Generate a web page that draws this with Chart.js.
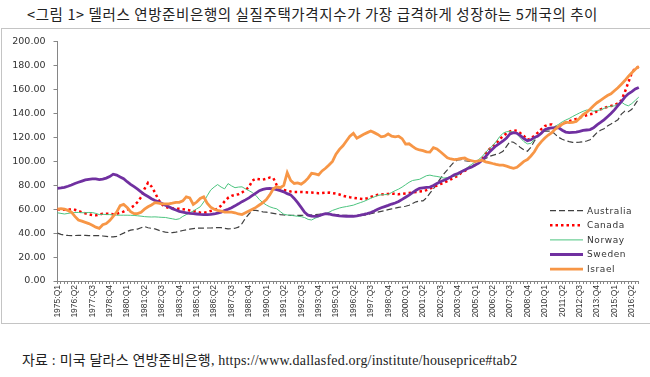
<!DOCTYPE html>
<html>
<head>
<meta charset="utf-8">
<script src="https://cdn.jsdelivr.net/npm/chart.js@4"></script>
<style>
  html, body { margin: 0; padding: 0; background: #fff; }
  body { width: 650px; height: 377px; position: relative; overflow: hidden; }
  #title {
    position: absolute; left: 27px; top: 3px; letter-spacing: 0.6px;
    font: 14.5px "Noto Sans CJK KR", sans-serif; color: #222; white-space: nowrap;
  }
  #frame {
    position: absolute; left: 1px; top: 28px; width: 670px; height: 294px;
    border: 1px solid #c4c4c4;
  }
  #wrap { position: absolute; left: 0; top: 28px; width: 650px; height: 296px; }
  #source {
    position: absolute; left: 22px; top: 349px; letter-spacing: 0.2px;
    font: 14px "Liberation Serif", "Noto Sans CJK KR", serif; color: #222; white-space: nowrap;
  }
</style>
</head>
<body>
<div id="title">&lt;그림 1&gt; 델러스 연방준비은행의 실질주택가격지수가 가장 급격하게 성장하는 5개국의 추이</div>
<div id="frame"></div>
<div id="wrap"><canvas id="chart"></canvas></div>
<div id="source">자료 : 미국 달라스 연방준비은행, https://www.dallasfed.org/institute/houseprice#tab2</div>
<script>
// quarters 1975:Q1 .. 2016:Q4
const years = [];
for (let y = 1975; y <= 2016; y++) years.push(y);
const quarters = [];
years.forEach(y => { for (let q = 1; q <= 4; q++) quarters.push(y + ":Q" + q); });

const seriesNames = ["Australia", "Canada", "Norway", "Sweden", "Israel"];

const australia = [
  40, 39, 38.3, 38.1,   38, 38, 38.1, 38.2,   38.2, 38, 38, 37.9,   37.9, 37.6, 37.3, 37,
  36.9, 37.3, 38.7, 40,   41.5, 42.5, 43, 43.4,   44.5, 45.5, 44.5, 44,   43.5, 42.5, 41.5, 40.8,
  40.5, 40.5, 40.8, 41.5,   42.2, 42.8, 43.4, 43.8,   44.1, 44.2, 44.2, 44.3,   44.3, 44.5, 44.6, 44.6,
  44, 43.5, 43.7, 44.1,   45, 48, 52.5, 56,   59, 59, 58.5, 57.8,   57.5, 57, 56.5, 56,
  55.5, 55.2, 55, 54.9,   54.9, 54.9, 54.9, 55,   55, 55.2, 55.5, 55.8,   56, 56.3, 56, 55.7,
  55.5, 55.2, 54.9, 54.8,   54.5, 54.1, 54.3, 54.7,   55, 55.5, 56.3, 57,   57.6, 58.2, 58.8, 59.6,
  60.3, 60.9, 61.5, 62,   62.5, 63.3, 64.8, 66.2,   66.8, 67, 69.5, 73.5,   77, 81.5, 85.5, 89.5,
  92.8, 96.5, 99.6, 101.3,   101.5, 100.5, 100.1, 100,   100.1, 100.2, 100.8, 102.3,   104, 105, 105.8, 106.8,
  108.5, 112.5, 116.5, 116,   114, 111.5, 109.5, 108.5,   111.7, 117, 121.5, 124,   125.3, 125.3, 125.3, 122.5,
  120, 118.5, 117.3, 116.5,   115.8, 115.8, 116, 116.4,   117, 118, 121, 124,   126, 127.2, 129.5, 131.2,
  133, 134.7, 139.5, 142,   141.5, 143.5, 148, 152.3
];

const canada = [
  60, 59.8, 59.5, 59.5,   60, 59.5, 58.5, 57.5,   56.5, 55.8, 55.2, 54.9,   55.5, 56.3, 56.3, 56,
  55.8, 56.2, 57, 58,   59.5, 61, 63, 66,   70, 77, 82, 79,   74, 68, 64, 62,
  61, 60.8, 60.5, 60.3,   60, 59.5, 59, 58.5,   57.6, 57.2, 57, 57.6,   58.5, 59.5, 60.5, 63,
  66.5, 69.5, 71.2, 72,   72.5, 74, 76, 78.5,   84, 85.5, 85, 84.7,   85.5, 86.5, 86, 80,
  77, 76, 75.5, 74.8,   74.4, 74.4, 74.4, 74.2,   74, 73.9, 73.6, 73.4,   73.5, 73.8, 73.9, 73.5,
  73, 72.3, 71.2, 70.5,   70, 69.6, 69.1, 68.8,   68.5, 69.2, 70.2, 71.2,   72, 72.4, 72.6, 72.8,
  73, 72.8, 72.5, 72.8,   73.2, 73.5, 74, 74.3,   74.8, 75, 76, 77.3,   78.5, 79.8, 81, 82.2,
  83.5, 85, 86.5, 88,   90.5, 92, 94, 95.8,   97, 99.5, 102, 106.5,   110, 112.3, 115, 118.5,
  121, 123.5, 125, 126,   125.5, 123.5, 121.2, 118,   119, 121.5, 124, 127,   129.5, 130.7, 130.7, 128.5,
  129, 131, 132.3, 133.5,   134.5, 135.5, 136.6, 137.5,   138.5, 139.3, 140, 142,   143.5, 144.5, 145.6, 146.3,
  147, 148.5, 151, 158,   166, 174, 178, 178.8
];

const norway = [
  57, 56.5, 56, 56.5,   57, 57.3, 57.3, 57.1,   57, 57.3, 57.2, 56.5,   55.5, 55.8, 55.5, 55.5,
  55.3, 55, 55, 55,   55, 54.9, 54.8, 54.5,   54.2, 53.8, 53.6, 53.5,   53.6, 53.4, 53.2, 53.1,
  52.5, 52, 51.4, 52,   54, 55.5, 57, 58.5,   60.3, 62, 66, 71.2,   76, 78.5, 80.6, 78.5,
  77, 81.4, 79.5, 78,   78.5, 78.7, 77, 75.5,   73.9, 71.5, 68, 65.5,   63.5, 62, 61, 60.3,
  58, 55.8, 55.2, 54.9,   54.5, 54.1, 53.8, 53,   51.5, 51, 52.5, 53.6,   55, 56.3, 57.5, 59,
  60, 61, 61.7, 62.2,   62.8, 63.4, 64.5, 65.5,   66.5, 67.8, 69.2, 70.3,   71.5, 72, 72.2, 72.3,
  74, 75.5, 76.8, 78.5,   80.5, 82.5, 84, 84.5,   85, 86.5, 88, 88.5,   87.8, 87.4, 86.8, 86,
  86.5, 87.2, 87.4, 88.5,   90.5, 93, 95.5, 97.5,   99.5, 101.5, 104, 107.5,   110.5, 113, 116.5, 120.5,
  123.5, 124.8, 124.8, 124.5,   123, 119.5, 116.5, 114.6,   115, 118.5, 121.5, 124.5,   125.8, 126.6, 127.8, 129.3,
  131, 133, 134.5, 135.8,   137.5, 139, 140.5, 141.8,   142.9, 142.5, 142, 142.5,   143, 144.2, 145.5, 146,
  146.4, 148, 149.6, 147.5,   146.4, 148.3, 151, 153.7
];

const sweden = [
  77.5, 77.8, 78.3, 79.2,   80.2, 81.5, 82.5, 83.5,   84.5, 85, 85.3, 85.3,   84.8, 85.2, 86, 87.3,
  89.3, 88.5, 87, 85.5,   83, 80.8, 78.8, 76.8,   74.5, 72.3, 70.6, 68.8,   67.3, 66.2, 64.8, 63.3,
  62, 60.5, 59.4, 58.2,   57.5, 57, 56.5, 56.3,   56, 55.7, 55.5, 55.4,   55.6, 56, 56.8, 57.6,
  58.8, 60, 61.3, 62.8,   64.5, 66.3, 67.8, 69.5,   71.5, 73.5, 75.5, 76.6,   77.2, 77.3, 77, 76.4,
  75.5, 74.5, 73, 72,   69, 65.5, 61.5, 57.5,   55, 54.2, 54, 54.5,   55.5, 56.3, 56, 55.3,
  54.9, 54.5, 54.3, 54.1,   54.1, 54.1, 54.5, 55,   55.6, 56.3, 57.2, 58.5,   60, 61.2, 62.2, 63.2,
  64.3, 65.2, 66.5, 68.2,   70, 71.8, 73.8, 75.8,   77.4, 77.9, 78.2, 78.5,   79.8, 81.5, 83, 84.2,
  85.5, 87, 88.8, 89.8,   91.3, 92.8, 94.2, 95.3,   97, 98.5, 101, 104,   107.5, 110.4, 113, 115,
  117, 119.5, 123, 124,   123.5, 121.5, 119, 117.2,   118, 120, 121.2, 123.5,   126.5, 127.5, 128, 128,
  128, 126, 124.5, 124,   124.2, 124.4, 125, 125.8,   126.2, 126.6, 128, 130.5,   132.5, 134.7, 137.3, 140,
  143, 146.5, 150, 153.7,   156.5, 158.3, 160.5, 161.8
];

const israel = [
  60, 60.5, 60, 59,   57.5, 54, 51, 50,   49, 48, 46.5, 45,   44, 47, 48, 50.5,
  54, 57.6, 63, 64,   61.5, 58, 56.3, 56.3,   57.5, 60, 62, 63.5,   65.5, 65, 64.4, 64.4,
  64.4, 65, 65.7, 65.7,   67, 70.3, 69.5, 64,   66, 69, 70.3, 65,   61.7, 60, 59, 58.5,
  57.6, 57.6, 57.6, 57,   56, 55.5, 57, 58.5,   60, 61.5, 63.5, 65.5,   68, 72, 77, 78.7,
  78, 80, 90.6, 84,   81.5, 82, 81, 83,   86, 90, 89.5, 88.7,   92, 94.2, 97, 100,
  106, 110, 113, 117,   121, 123.4, 119.3, 121,   122.6, 124, 125.3, 124,   122.5, 120.5, 121, 123,
  121, 120.5, 121, 119,   114.4, 114.7, 112.5, 110.5,   109.5, 109, 108, 107.7,   111.5, 110.4, 108, 105.5,
  103, 102, 101.5, 101.8,   102.5, 102.8, 101.2, 100.5,   99.8, 100.5, 101, 99.6,   99, 98.2, 97.5, 96.9,
  96.9, 96, 95, 94.2,   95, 97.5, 100, 101.5,   104.5, 108, 113, 116.5,   119.5, 122, 124, 127,
  129.3, 131, 132.8, 132.3,   132.5, 133.4, 136, 139,   141, 143.5, 146.5, 149,   151, 153, 155, 156.4,
  159, 161.5, 164.5, 167.5,   171, 174, 177, 179.4
];

// legend drawn inside the plot, lower right
const insideLegend = {
  id: "insideLegend",
  afterDraw(chart) {
    const ctx = chart.ctx;
    const x0 = 550, x1 = 583, tx = 587;
    let y = 182.7;
    ctx.save();
    ctx.font = "9px 'DejaVu Sans'";
    ctx.letterSpacing = "0.6px";
    ctx.textBaseline = "middle";
    chart.data.datasets.forEach(ds => {
      ctx.beginPath();
      ctx.strokeStyle = ds.borderColor;
      ctx.lineWidth = ds.borderWidth;
      ctx.setLineDash(ds.borderDash || []);
      ctx.moveTo(x0, y);
      ctx.lineTo(x1, y);
      ctx.stroke();
      ctx.setLineDash([]);
      ctx.fillStyle = "#333";
      ctx.fillText(ds.label, tx, y + 0.5);
      y += 14.6;
    });
    ctx.restore();
  }
};

const ctx = document.getElementById("chart").getContext("2d");
new Chart(ctx, {
  type: "line",
  data: {
    labels: quarters,
    datasets: [
      { label: seriesNames[0], data: australia, borderColor: "#404040", borderWidth: 1.2, borderDash: [6, 3], order: 5 },
      { label: seriesNames[1], data: canada, borderColor: "#ff0000", borderWidth: 2.5, borderDash: [2.5, 3], order: 4 },
      { label: seriesNames[2], data: norway, borderColor: "#4cc47f", borderWidth: 1, order: 3 },
      { label: seriesNames[3], data: sweden, borderColor: "#7030a0", borderWidth: 2.8, order: 2 },
      { label: seriesNames[4], data: israel, borderColor: "#f79646", borderWidth: 2.8, order: 1 },
    ],
  },
  options: {
    responsive: true,
    maintainAspectRatio: false,
    animation: false,
    layout: { padding: { top: 6.6, right: 6, left: 0, bottom: 0 } },
    elements: { point: { radius: 0 }, line: { tension: 0, fill: false } },
    plugins: { legend: { display: false }, tooltip: { enabled: false } },
    scales: {
      x: {
        offset: false,
        afterFit: s => { s.height = 43; },
        grid: { drawOnChartArea: false, drawTicks: true, tickLength: 3, color: "#868686" },
        border: { color: "#868686" },
        ticks: {
          autoSkip: false,
          minRotation: 90,
          maxRotation: 90,
          padding: 1,
          color: "#333",
          font: { family: "Liberation Sans", size: 8.5 },
          callback: function (val, index) {
            return index % 5 === 0 ? this.getLabelForValue(val) : "";
          },
        },
      },
      y: {
        min: 0,
        max: 200,
        afterFit: s => { s.width = 57.5; },
        grid: { drawOnChartArea: false, drawTicks: true, tickLength: 4, color: "#868686" },
        border: { color: "#868686" },
        ticks: {
          stepSize: 20,
          padding: 8,
          color: "#333",
          font: { family: "DejaVu Sans", size: 9.5 },
          callback: v => v.toFixed(2),
        },
      },
    },
  },
  plugins: [insideLegend],
});
</script>
</body>
</html>
